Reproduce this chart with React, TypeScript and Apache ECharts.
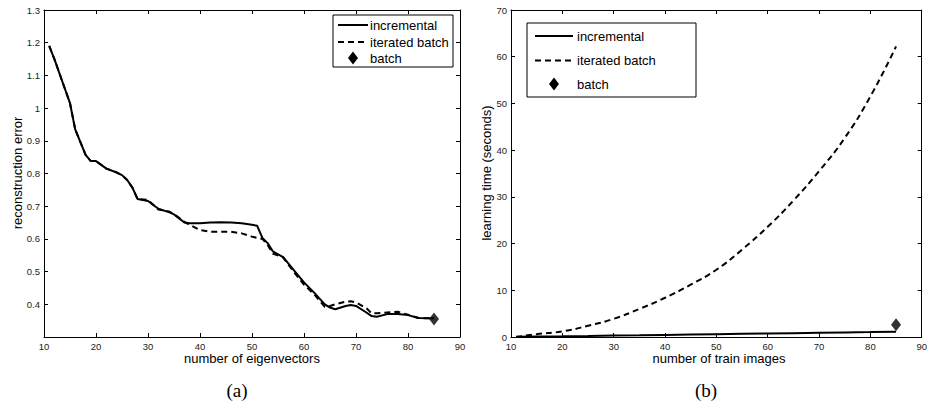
import React, { useEffect, useRef } from "react";
import * as echarts from "echarts";

// ---- Data: panel (a) reconstruction error vs number of eigenvectors ----
const eigenCounts = [11, 12, 14, 15, 16, 18, 19, 20, 22, 24, 25, 26, 27, 28, 30, 32, 34, 35, 37, 38, 40, 42, 44, 46, 48, 50, 51, 52, 53, 54, 56, 58, 60, 62, 64, 65, 66, 68, 69, 70, 72, 73, 74, 76, 78, 80, 82, 85];
const incrementalError = [1.19, 1.15, 1.06, 1.015, 0.935, 0.857, 0.838, 0.838, 0.815, 0.803, 0.795, 0.78, 0.757, 0.722, 0.716, 0.692, 0.682, 0.675, 0.65, 0.648, 0.648, 0.65, 0.651, 0.65, 0.648, 0.643, 0.64, 0.603, 0.587, 0.562, 0.544, 0.505, 0.467, 0.435, 0.4, 0.39, 0.385, 0.395, 0.398, 0.395, 0.375, 0.364, 0.362, 0.37, 0.37, 0.367, 0.358, 0.357];
const iteratedError = [1.19, 1.15, 1.06, 1.015, 0.935, 0.857, 0.838, 0.838, 0.815, 0.803, 0.795, 0.78, 0.757, 0.722, 0.719, 0.69, 0.684, 0.676, 0.652, 0.643, 0.627, 0.622, 0.622, 0.622, 0.617, 0.607, 0.603, 0.6, 0.582, 0.555, 0.543, 0.5, 0.46, 0.43, 0.392, 0.395, 0.4, 0.408, 0.409, 0.406, 0.388, 0.372, 0.373, 0.375, 0.377, 0.368, 0.358, 0.357];
const batchErrorPoint = [85, 0.355];

// ---- Data: panel (b) learning time vs number of train images ----
const trainCounts = [11, 15, 20, 25, 30, 35, 40, 45, 50, 55, 60, 65, 70, 75, 80, 85];
const incrementalTime = [0.05, 0.1, 0.15, 0.22, 0.3, 0.37, 0.45, 0.52, 0.6, 0.67, 0.75, 0.82, 0.9, 0.97, 1.05, 1.15];
const iteratedTime = [0.0, 0.6, 1.2, 2.4, 3.9, 6.0, 8.4, 11.2, 14.4, 18.7, 23.6, 29.2, 35.5, 42.6, 51.5, 62.2];
const batchTimePoint = [85, 2.6];

const legendNames = ["incremental", "iterated batch", "batch"];

const FONT = "Liberation Sans, Arial, Helvetica, sans-serif";
const SERIF = "Liberation Serif, Times New Roman, serif";

function pairs(xs: number[], ys: number[]) {
  return xs.map((x, i) => [x, ys[i]]);
}

function xAx(grid: number, pos: "bottom" | "top", showLabel: boolean) {
  return {
    type: "value",
    gridIndex: grid,
    position: pos,
    min: 10,
    max: 90,
    interval: 10,
    axisLine: { show: true, onZero: false, lineStyle: { color: "#000", width: 1 } },
    axisTick: { show: true, inside: true, length: 4, lineStyle: { color: "#000" } },
    axisLabel: { show: showLabel, fontSize: 9.5, color: "#222", fontFamily: FONT, margin: 4 },
    splitLine: { show: false },
  };
}

function yAx(grid: number, pos: "left" | "right", showLabel: boolean, min: number, max: number, interval: number, showMin: boolean) {
  return {
    type: "value",
    gridIndex: grid,
    position: pos,
    min,
    max,
    interval,
    axisLine: { show: true, onZero: false, lineStyle: { color: "#000", width: 1 } },
    axisTick: { show: true, inside: true, length: 4, lineStyle: { color: "#000" } },
    axisLabel: {
      show: showLabel,
      showMinLabel: showMin,
      fontSize: 9.5,
      color: "#222",
      fontFamily: FONT,
      margin: 4,
      formatter: (v: number) => String(Number(v.toFixed(2))),
    },
    splitLine: { show: false },
  };
}

function diamond(cx: number, cy: number, w: number, h: number) {
  return {
    type: "polygon",
    shape: { points: [[cx, cy - h / 2], [cx + w / 2, cy], [cx, cy + h / 2], [cx - w / 2, cy]] },
    style: { fill: "#000" },
    z: 10,
  };
}

function legendBlock(x: number, y: number, w: number, h: number, lineX1: number, lineX2: number, textX: number, rows: number[]) {
  const els: any[] = [];
  els.push({ type: "rect", shape: { x, y, width: w, height: h }, style: { fill: "#fff", stroke: "#000", lineWidth: 1 }, z: 5 });
  els.push({ type: "line", shape: { x1: lineX1, y1: rows[0], x2: lineX2, y2: rows[0] }, style: { stroke: "#000", lineWidth: 2 }, z: 10 });
  els.push({ type: "line", shape: { x1: lineX1, y1: rows[1], x2: lineX2, y2: rows[1] }, style: { stroke: "#000", lineWidth: 2, lineDash: [6, 4] }, z: 10 });
  els.push(diamond((lineX1 + lineX2) / 2, rows[2], 10, 13));
  rows.forEach((ry, i) => {
    els.push({
      type: "text",
      x: textX,
      y: ry,
      style: { text: legendNames[i], font: `13px ${FONT}`, fill: "#000", verticalAlign: "middle" },
      z: 10,
    });
  });
  return els;
}

export default function App() {
  const ref = useRef<HTMLDivElement>(null);

  useEffect(() => {
    if (!ref.current) return;
    const chart = echarts.init(ref.current, undefined, { renderer: "svg" });

    const solid = { color: "#000", width: 2, type: "solid" as const };
    const dashed = { color: "#000", width: 2, type: [6, 4] as any };

    const option: any = {
      animation: false,
      backgroundColor: "#fff",
      grid: [
        { left: 44, top: 10, width: 416, height: 327, containLabel: false },
        { left: 511, top: 10, width: 417, height: 327, containLabel: false },
      ],
      xAxis: [xAx(0, "bottom", true), xAx(0, "top", false), xAx(1, "bottom", true), xAx(1, "top", false)],
      yAxis: [
        yAx(0, "left", true, 0.3, 1.3, 0.1, false),
        yAx(0, "right", false, 0.3, 1.3, 0.1, false),
        yAx(1, "left", true, 0, 70, 10, true),
        yAx(1, "right", false, 0, 70, 10, true),
      ],
      series: [
        {
          type: "line", name: "iterated batch", xAxisIndex: 0, yAxisIndex: 0,
          data: pairs(eigenCounts, iteratedError), showSymbol: false, lineStyle: dashed, z: 2,
        },
        {
          type: "line", name: "incremental", xAxisIndex: 0, yAxisIndex: 0,
          data: pairs(eigenCounts, incrementalError), showSymbol: false, lineStyle: solid, z: 3,
        },
        {
          type: "scatter", name: "batch", xAxisIndex: 0, yAxisIndex: 0,
          data: [batchErrorPoint], symbol: "diamond", symbolSize: [10, 13], itemStyle: { color: "#000" }, z: 4,
        },
        {
          type: "line", name: "iterated batch", xAxisIndex: 2, yAxisIndex: 2,
          data: pairs(trainCounts, iteratedTime), showSymbol: false, smooth: 0.5, lineStyle: dashed, z: 2,
        },
        {
          type: "line", name: "incremental", xAxisIndex: 2, yAxisIndex: 2,
          data: pairs(trainCounts, incrementalTime), showSymbol: false, lineStyle: solid, z: 3,
        },
        {
          type: "scatter", name: "batch", xAxisIndex: 2, yAxisIndex: 2,
          data: [batchTimePoint], symbol: "diamond", symbolSize: [10, 13], itemStyle: { color: "#000" }, z: 4,
        },
      ],
      graphic: [
        ...legendBlock(333, 15, 120, 52, 338, 368, 370, [25, 42, 58]),
        ...legendBlock(527, 23, 169, 74, 535, 573, 577, [36, 60.5, 84]),
        {
          type: "text", x: 252, y: 358,
          style: { text: "number of eigenvectors", font: `13px ${FONT}`, fill: "#000", align: "center", verticalAlign: "middle" },
        },
        {
          type: "text", x: 719, y: 358,
          style: { text: "number of train images", font: `13px ${FONT}`, fill: "#000", align: "center", verticalAlign: "middle" },
        },
        {
          type: "text", x: 17, y: 173, rotation: Math.PI / 2,
          style: { text: "reconstruction error", font: `13px ${FONT}`, fill: "#000", align: "center", verticalAlign: "middle" },
        },
        {
          type: "text", x: 486, y: 173, rotation: Math.PI / 2,
          style: { text: "learning time (seconds)", font: `13px ${FONT}`, fill: "#000", align: "center", verticalAlign: "middle" },
        },
        {
          type: "text", x: 237, y: 390,
          style: { text: "(a)", font: `19px ${SERIF}`, fill: "#000", align: "center", verticalAlign: "middle" },
        },
        {
          type: "text", x: 706, y: 390,
          style: { text: "(b)", font: `19px ${SERIF}`, fill: "#000", align: "center", verticalAlign: "middle" },
        },
      ],
    };

    chart.setOption(option);
    return () => chart.dispose();
  }, []);

  return (
    <div
      ref={ref}
      style={{ position: "absolute", left: 0, top: 0, width: 930, height: 405, background: "#fff" }}
    />
  );
}
